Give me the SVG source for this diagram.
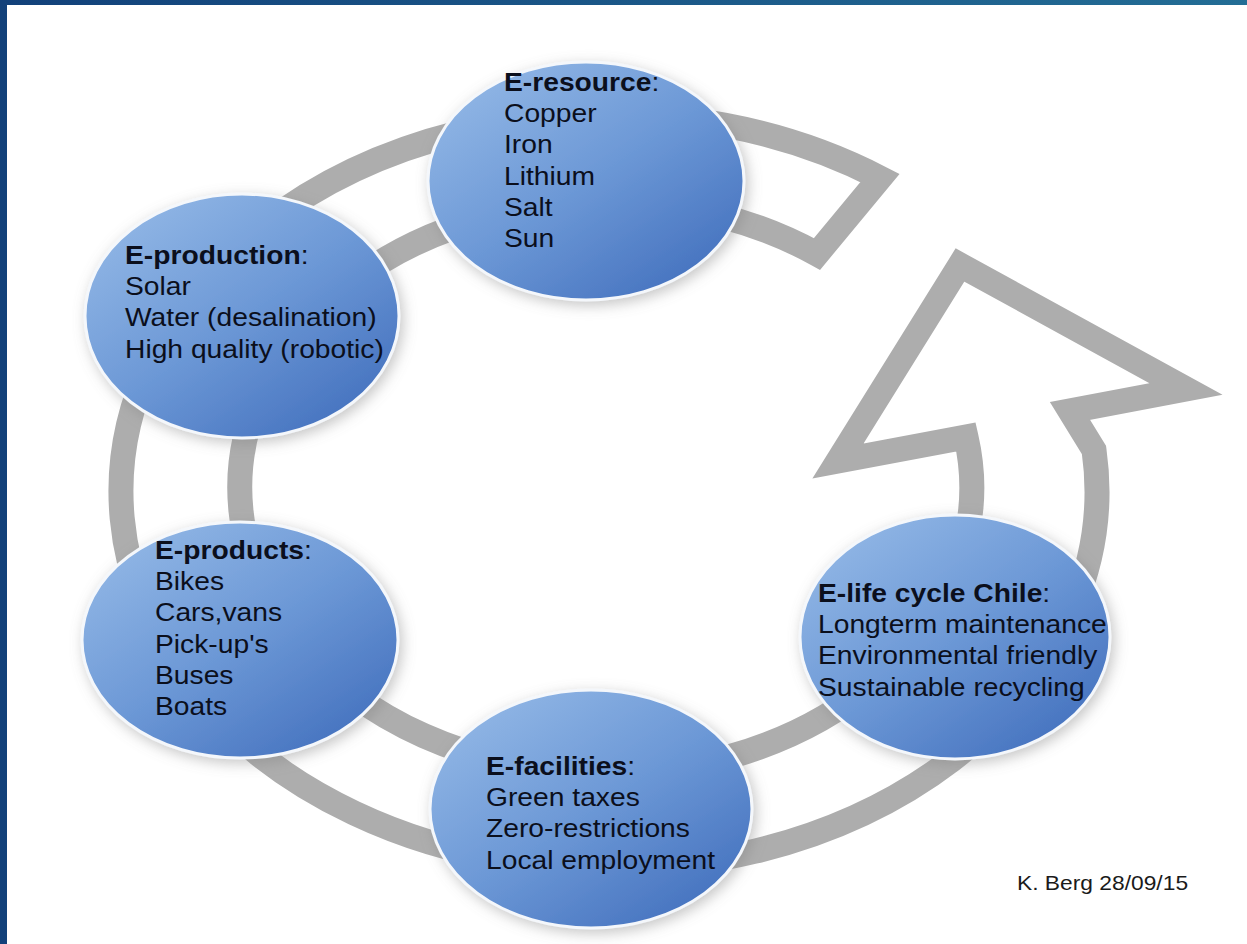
<svg xmlns="http://www.w3.org/2000/svg" width="1247" height="944" viewBox="0 0 1247 944">
<defs>
<linearGradient id="frame" x1="0" y1="0" x2="1" y2="0">
<stop offset="0" stop-color="#12417a"/>
<stop offset="1" stop-color="#236d95"/>
</linearGradient>
<linearGradient id="ball" x1="0.1" y1="0.05" x2="0.9" y2="0.95">
<stop offset="0" stop-color="#93b8e6"/>
<stop offset="0.5" stop-color="#6c98d6"/>
<stop offset="1" stop-color="#426fbd"/>
</linearGradient>
<filter id="glow" x="-20%" y="-20%" width="140%" height="140%">
<feDropShadow dx="3" dy="4" stdDeviation="7" flood-color="#808080" flood-opacity="0.45"/>
</filter>
<style>
.ring{fill:none;stroke:#adadad;stroke-width:25;stroke-linejoin:miter;stroke-miterlimit:10}
.node{fill:url(#ball);stroke:#f4f7fb;stroke-width:3;filter:url(#glow)}
.t{font-family:"Liberation Sans",Arial,sans-serif;font-size:25px;fill:#0b0f1c}
.b{font-weight:bold}
.sig{font-family:"Liberation Sans",Arial,sans-serif;font-size:20px;fill:#1a1a1a}
</style>
</defs>
<rect x="0" y="0" width="1247" height="944" fill="url(#frame)"/>
<rect x="7" y="5" width="1240" height="939" fill="#ffffff"/>
<g id="connectors">
<path class="ring" d="M880,178 A488,377 0 1 0 1094,450 L1070,411 L1186,389 L960,265 L838,461 L966,437 A366,286 0 1 1 817,254 Z"/>
</g>
<g id="n-resource">
<ellipse class="node" cx="586" cy="181" rx="158" ry="119"/>
<g transform="translate(504 0) scale(1.13 1)">
<text class="t" x="0" y="91"><tspan class="b">E-resource</tspan>:</text>
<text class="t" x="0" y="122">Copper</text>
<text class="t" x="0" y="153.5">Iron</text>
<text class="t" x="0" y="185">Lithium</text>
<text class="t" x="0" y="216">Salt</text>
<text class="t" x="0" y="247.5">Sun</text>
</g>
</g>
<g id="n-production">
<ellipse class="node" cx="242" cy="316" rx="157" ry="122"/>
<g transform="translate(125 0) scale(1.13 1)">
<text class="t" x="0" y="264"><tspan class="b">E-production</tspan>:</text>
<text class="t" x="0" y="295">Solar</text>
<text class="t" x="0" y="326.5">Water (desalination)</text>
<text class="t" x="0" y="358">High quality (robotic)</text>
</g>
</g>
<g id="n-products">
<ellipse class="node" cx="240" cy="640" rx="158" ry="118"/>
<g transform="translate(155 0) scale(1.13 1)">
<text class="t" x="0" y="559"><tspan class="b">E-products</tspan>:</text>
<text class="t" x="0" y="590">Bikes</text>
<text class="t" x="0" y="621.5">Cars,vans</text>
<text class="t" x="0" y="653">Pick-up's</text>
<text class="t" x="0" y="684">Buses</text>
<text class="t" x="0" y="715.5">Boats</text>
</g>
</g>
<g id="n-facilities">
<ellipse class="node" cx="591" cy="809" rx="161" ry="119"/>
<g transform="translate(486 0) scale(1.13 1)">
<text class="t" x="0" y="775"><tspan class="b">E-facilities</tspan>:</text>
<text class="t" x="0" y="806">Green taxes</text>
<text class="t" x="0" y="837.5">Zero-restrictions</text>
<text class="t" x="0" y="869">Local employment</text>
</g>
</g>
<g id="n-lifecycle">
<ellipse class="node" cx="955" cy="637" rx="155" ry="122"/>
<g transform="translate(818 0) scale(1.13 1)">
<text class="t" x="0" y="602"><tspan class="b">E-life cycle Chile</tspan>:</text>
<text class="t" x="0" y="633">Longterm maintenance</text>
<text class="t" x="0" y="664.5">Environmental friendly</text>
<text class="t" x="0" y="696">Sustainable recycling</text>
</g>
</g>
<g transform="translate(1017 0) scale(1.14 1)">
<text class="sig" x="0" y="890">K. Berg 28/09/15</text>
</g>
</svg>
